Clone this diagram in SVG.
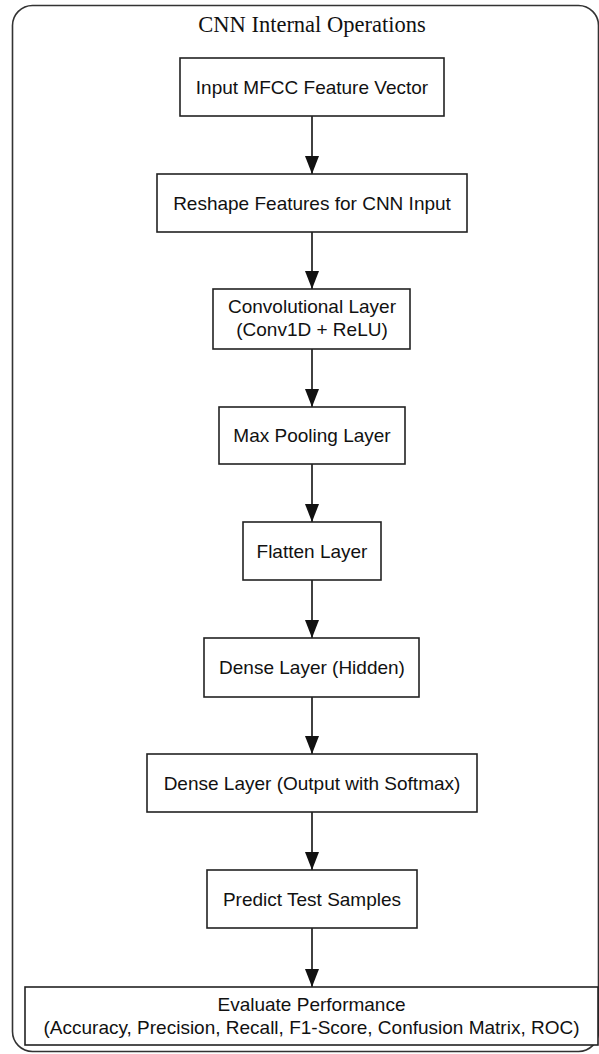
<svg xmlns="http://www.w3.org/2000/svg" width="599" height="1054" viewBox="0 0 599 1054">
<defs>
<marker id="arr" markerUnits="userSpaceOnUse" markerWidth="18" markerHeight="14" refX="18" refY="7" orient="auto" viewBox="0 0 18 14">
<path d="M0,0 L18,7 L0,14 Z" fill="#111"/>
</marker>
<style>
.box{fill:#fff;stroke:#222;stroke-width:1.6}
.lbl{font-family:"Liberation Sans",Arial,sans-serif;font-size:19px;fill:#111;text-anchor:middle}
.edge{stroke:#111;stroke-width:1.6;fill:none}
.title{font-family:"Liberation Serif","Times New Roman",serif;font-size:22.5px;fill:#111;text-anchor:middle}
</style>
</defs>
<rect width="599" height="1054" fill="#fff"/>
<g id="frame">
<rect x="12.5" y="5.5" width="586" height="1046" rx="20" ry="20" fill="none" stroke="#333" stroke-width="1.6"/>
<text class="title" x="312" y="32">CNN Internal Operations</text>
</g>
<g id="connectors">
<line class="edge" x1="312" y1="116" x2="312" y2="174" marker-end="url(#arr)"/>
<line class="edge" x1="312" y1="232" x2="312" y2="289" marker-end="url(#arr)"/>
<line class="edge" x1="312" y1="349" x2="312" y2="407" marker-end="url(#arr)"/>
<line class="edge" x1="312" y1="464" x2="312" y2="522" marker-end="url(#arr)"/>
<line class="edge" x1="312" y1="580" x2="312" y2="638" marker-end="url(#arr)"/>
<line class="edge" x1="312" y1="697" x2="312" y2="754" marker-end="url(#arr)"/>
<line class="edge" x1="312" y1="812" x2="312" y2="870" marker-end="url(#arr)"/>
<line class="edge" x1="312" y1="928" x2="312" y2="987" marker-end="url(#arr)"/>
</g>
<g id="n1"><rect class="box" x="180" y="58" width="264" height="58"/><text class="lbl" x="312" y="94">Input MFCC Feature Vector</text></g>
<g id="n2"><rect class="box" x="157" y="174" width="310" height="58"/><text class="lbl" x="312" y="210">Reshape Features for CNN Input</text></g>
<g id="n3"><rect class="box" x="213" y="289" width="197" height="60"/><text class="lbl" x="312" y="313">Convolutional Layer</text><text class="lbl" x="312" y="336">(Conv1D + ReLU)</text></g>
<g id="n4"><rect class="box" x="219" y="407" width="186" height="57"/><text class="lbl" x="312" y="442">Max Pooling Layer</text></g>
<g id="n5"><rect class="box" x="243" y="522" width="138" height="58"/><text class="lbl" x="312" y="558">Flatten Layer</text></g>
<g id="n6"><rect class="box" x="204" y="638" width="215" height="59"/><text class="lbl" x="312" y="674">Dense Layer (Hidden)</text></g>
<g id="n7"><rect class="box" x="147" y="754" width="330" height="58"/><text class="lbl" x="312" y="790">Dense Layer (Output with Softmax)</text></g>
<g id="n8"><rect class="box" x="207" y="870" width="210" height="58"/><text class="lbl" x="312" y="906">Predict Test Samples</text></g>
<g id="n9"><rect class="box" x="25" y="987" width="573" height="58"/><text class="lbl" x="311.5" y="1011">Evaluate Performance</text><text class="lbl" x="311.5" y="1034">(Accuracy, Precision, Recall, F1-Score, Confusion Matrix, ROC)</text></g>
</svg>
